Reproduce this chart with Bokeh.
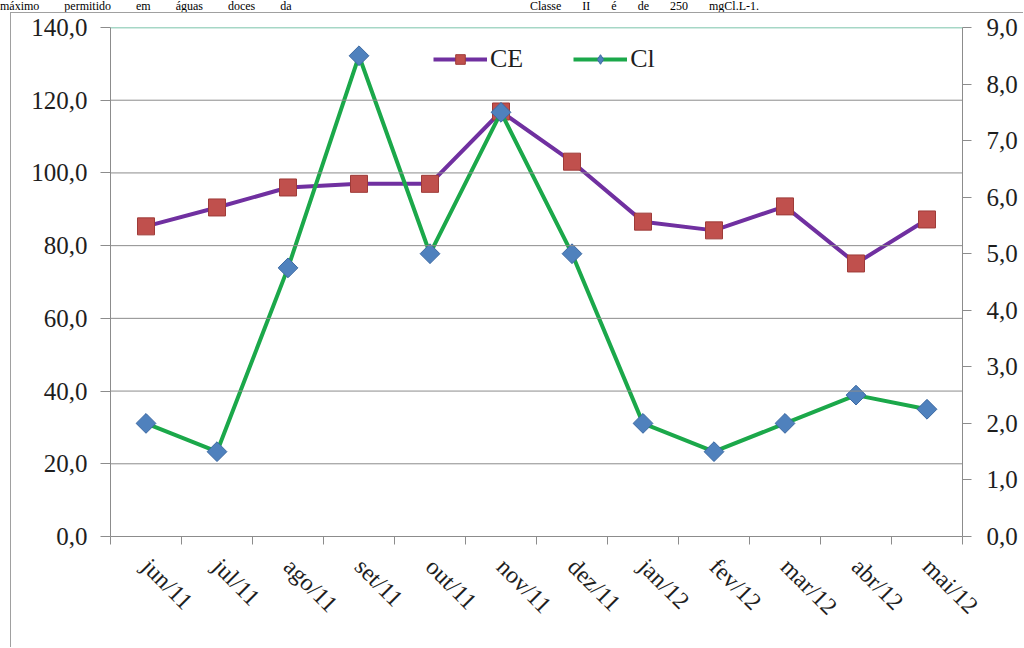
from bokeh.plotting import figure
from bokeh.layouts import column
from bokeh.models import (Range1d, LinearAxis, FixedTicker, CustomJSTickFormatter,
                          Legend, LegendItem, Span, Div)
from bokeh.embed import file_html
from bokeh.resources import INLINE
import math

months = ["jun/11", "jul/11", "ago/11", "set/11", "out/11", "nov/11",
          "dez/11", "jan/12", "fev/12", "mar/12", "abr/12", "mai/12"]
ce = [85.3, 90.5, 96.0, 97.0, 97.0, 116.9, 103.1, 86.6, 84.2, 90.8, 75.1, 87.2]
cl = [2.0, 1.5, 4.75, 8.5, 5.0, 7.5, 5.0, 2.0, 1.5, 2.0, 2.5, 2.25]
left_ticks = [0, 20, 40, 60, 80, 100, 120, 140]
right_ticks = [0, 1, 2, 3, 4, 5, 6, 7, 8, 9]
header_left = "máximo permitido em águas doces da"
header_right = "Classe II é de 250 mgCl.L-1."

FONT = "Liberation Serif"
GRID = "#8c8c8c"
TXT = "#1e1e1e"

xs = [i + 0.5 for i in range(len(months))]

header = Div(text=(f'<span style="position:absolute;left:0px;top:0px;word-spacing:22px">{header_left}</span>'
                   f'<span style="position:absolute;left:530px;top:0px;word-spacing:18px">{header_right}</span>'),
             width=1024, height=12, margin=0,
             styles={"overflow": "visible", "font-family": FONT, "font-size": "12px",
                     "line-height": "12px", "white-space": "nowrap", "color": "black",
                     "position": "relative"})

p = figure(width=1013, height=635, output_backend="svg", toolbar_location=None,
           x_range=Range1d(0, len(months)), y_range=Range1d(0, 140),
           min_border_left=99, min_border_right=62, min_border_top=14,
           min_border_bottom=112, x_axis_location=None, y_axis_location=None,
           margin=(0, 0, 0, 10),
           styles={"border-left": "1px solid #a0a0a0", "border-top": "1px solid #a0a0a0"})
p.outline_line_color = None
p.background_fill_color = "white"
p.border_fill_color = "white"
p.xgrid.grid_line_color = None
p.ygrid.grid_line_color = None

p.extra_y_ranges = {"cl": Range1d(0, 9)}

fmt = CustomJSTickFormatter(code="return tick.toFixed(1).replace('.', ',');")

# left axis
ya = LinearAxis(ticker=FixedTicker(ticks=left_ticks), formatter=fmt)
ya.axis_line_color = GRID
ya.major_tick_line_color = GRID
ya.major_tick_out = 10
ya.major_tick_in = 0
ya.minor_tick_line_color = None
ya.major_label_standoff = 13
ya.major_label_text_font = FONT
ya.major_label_text_font_size = "25px"
ya.major_label_text_color = TXT
p.add_layout(ya, "left")

# right axis
ra = LinearAxis(y_range_name="cl", ticker=FixedTicker(ticks=right_ticks), formatter=fmt)
ra.axis_line_color = GRID
ra.major_tick_line_color = GRID
ra.major_tick_out = 9
ra.major_tick_in = 0
ra.minor_tick_line_color = None
ra.major_label_standoff = 15
ra.major_label_text_font = FONT
ra.major_label_text_font_size = "25px"
ra.major_label_text_color = TXT
p.add_layout(ra, "right")

# bottom axis
xfmt = CustomJSTickFormatter(args=dict(labels=months),
                             code="return labels[Math.floor(tick)];")
xa = LinearAxis(ticker=FixedTicker(ticks=xs, minor_ticks=list(range(len(months) + 1))),
                formatter=xfmt)
xa.axis_line_color = GRID
xa.major_tick_line_color = None
xa.major_tick_out = 0
xa.major_tick_in = 0
xa.minor_tick_line_color = GRID
xa.minor_tick_out = 8
xa.minor_tick_in = 0
xa.major_label_orientation = -math.pi / 4
xa.major_label_standoff = 18
xa.major_label_text_font = FONT
xa.major_label_text_font_size = "24px"
xa.major_label_text_color = TXT
p.add_layout(xa, "below")

# grid
for t in left_ticks[1:-1]:
    p.add_layout(Span(location=t, dimension="width", line_color=GRID, line_width=1))
p.add_layout(Span(location=140, dimension="width", line_color="#4fb08e", line_width=1.5))

# series
ce_line = p.line(xs, ce, line_color="#7030A0", line_width=4)
ce_pts = p.scatter(xs, ce, marker="square", size=17, fill_color="#C0504D",
                   line_color="#9e3b38", line_width=1)
cl_line = p.line(xs, cl, line_color="#1BA84A", line_width=4, y_range_name="cl")
# diamond glyph (used for the legend symbol; hidden beneath the rotated squares)
cl_leg = p.scatter(xs, cl, marker="diamond", size=18, fill_color="#4F81BD",
                   line_color="#3d6aa3", line_width=1, y_range_name="cl")
cl_pts = p.scatter(xs, cl, marker="square", angle=math.pi / 4, size=14,
                   fill_color="#4F81BD", line_color="#3d6aa3", line_width=1,
                   y_range_name="cl")

legend = Legend(items=[LegendItem(label="CE", renderers=[ce_line, ce_pts]),
                       LegendItem(label="Cl", renderers=[cl_line, cl_leg])],
                orientation="horizontal", location=(323, 462))
legend.label_text_font = FONT
legend.label_text_font_size = "26px"
legend.label_text_color = TXT
legend.glyph_width = 54
legend.glyph_height = 24
legend.label_standoff = 3
legend.spacing = 50
legend.padding = 4
legend.border_line_color = None
legend.background_fill_alpha = 1.0
p.add_layout(legend)

layout = column(header, p, spacing=0)

open("out.html", "w").write(file_html(layout, INLINE))
